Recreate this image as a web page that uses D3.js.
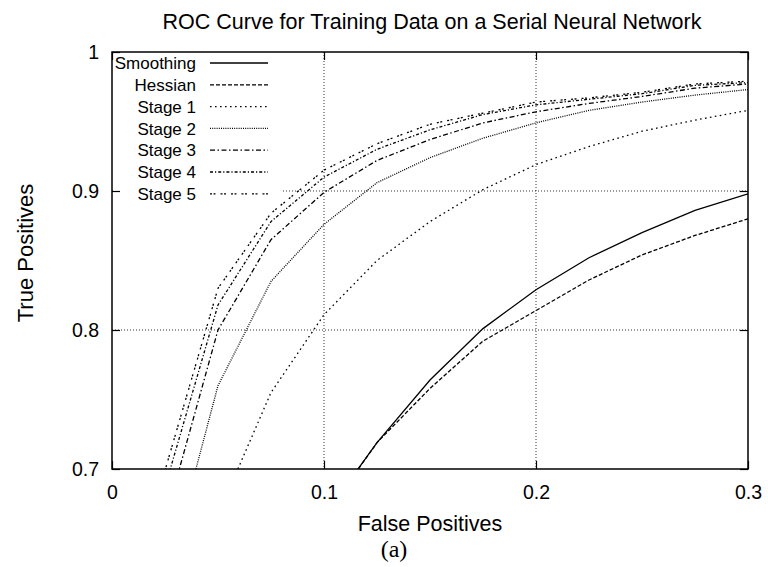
<!DOCTYPE html>
<html>
<head>
  <style>
    body {
      margin: 0;
      background: #fff;
      font-family: "Liberation Sans", Arial, sans-serif;
    }
    .grid line {
      stroke: #000;
      stroke-width: 0.8;
      stroke-dasharray: 1,2;
    }
    .curve {
      fill: none;
      stroke: #000;
      stroke-width: 1.3;
    }
    text {
      fill: #000;
    }
  </style>
</head>
<body>
  <script src="https://d3js.org/d3.v7.min.js"></script>
  <script>
    // false positive rate at which each curve was sampled
    var fpr = [0.025, 0.05, 0.075, 0.1, 0.125, 0.15, 0.175, 0.2, 0.225, 0.25, 0.275, 0.3];

    var smoothing = [null, null, null, 0.666, 0.719, 0.764, 0.801, 0.829, 0.852, 0.870, 0.886, 0.898];
    var hessian   = [null, null, null, 0.665, 0.719, 0.758, 0.792, 0.814, 0.836, 0.854, 0.868, 0.880];
    var stage1    = [null, 0.667, 0.755, 0.811, 0.850, 0.878, 0.901, 0.919, 0.932, 0.943, 0.951, 0.958];
    var stage2    = [0.616, 0.760, 0.835, 0.876, 0.906, 0.924, 0.938, 0.949, 0.958, 0.964, 0.969, 0.973];
    var stage3    = [0.663, 0.800, 0.865, 0.899, 0.922, 0.937, 0.949, 0.957, 0.963, 0.968, 0.974, 0.977];
    var stage4    = [0.687, 0.818, 0.878, 0.910, 0.930, 0.944, 0.955, 0.962, 0.966, 0.970, 0.976, 0.978];
    var stage5    = [0.699, 0.830, 0.884, 0.915, 0.934, 0.948, 0.956, 0.964, 0.967, 0.971, 0.977, 0.979];

    var names = ["Smoothing", "Hessian", "Stage 1", "Stage 2", "Stage 3", "Stage 4", "Stage 5"];
    var dashes = ["none", "4,2", "1.6,3.4", "1,1.2", "5,2.5,1.5,2.5", "3,2,1.2,2", "2,1.5,2,5"];

    var xTicks = [0, 0.1, 0.2, 0.3];
    var yTicks = [0.7, 0.8, 0.9, 1];

    var series = [smoothing, hessian, stage1, stage2, stage3, stage4, stage5];

    var W = 768, H = 567;
    var m = {top: 52, right: 20, bottom: 98, left: 112};
    var width = W - m.left - m.right, height = H - m.top - m.bottom;

    var svg = d3.select("body").append("svg")
        .attr("width", W)
        .attr("height", H);

    var g = svg.append("g")
        .attr("transform", "translate(" + m.left + "," + m.top + ")");

    var x = d3.scaleLinear().domain([0, 0.3]).range([0, width]);
    var y = d3.scaleLinear().domain([0.7, 1]).range([height, 0]);

    // grid (inner lines only)
    var grid = g.append("g").attr("class", "grid");
    grid.selectAll(".gx")
      .data(xTicks.slice(1, -1))
      .enter().append("line")
        .attr("x1", function(d){ return x(d); })
        .attr("x2", function(d){ return x(d); })
        .attr("y1", 0)
        .attr("y2", height);
    grid.selectAll(".gy")
      .data(yTicks.slice(1, -1))
      .enter().append("line")
        .attr("x1", 0)
        .attr("x2", width)
        .attr("y1", function(d){ return y(d); })
        .attr("y2", function(d){ return y(d); });

    // legend background hides the grid
    g.append("rect")
        .attr("x", 1)
        .attr("y", 1)
        .attr("width", 168)
        .attr("height", 150)
        .attr("fill", "#fff");

    g.append("clipPath").attr("id", "clip")
      .append("rect").attr("width", width).attr("height", height);

    var line = d3.line()
        .defined(function(d){ return d[1] != null; })
        .x(function(d){ return x(d[0]); })
        .y(function(d){ return y(d[1]); });

    g.append("g").attr("clip-path", "url(#clip)")
      .selectAll("path")
      .data(series)
      .enter().append("path")
        .attr("class", "curve")
        .attr("stroke-dasharray", function(d, i){ return dashes[i]; })
        .attr("d", function(s){ return line(fpr.map(function(f, i){ return [f, s[i]]; })); });

    // axes, ticks inward on all four sides
    var fmt = function(d){ return d === 0 ? "0" : d === 1 ? "1" : d3.format(".1f")(d); };

    function tidy(sel) {
      sel.select(".domain").remove();
      sel.selectAll(".tick line").attr("stroke-width", 1.2);
      sel.selectAll(".tick text").attr("font-size", 19.5).attr("font-family", "Liberation Sans, Arial, sans-serif");
    }

    g.append("g")
        .attr("transform", "translate(0," + height + ")")
        .call(d3.axisBottom(x).tickValues(xTicks).tickFormat(fmt).tickSize(-8).tickPadding(16))
        .call(tidy);
    g.append("g")
        .call(d3.axisTop(x).tickValues(xTicks).tickFormat("").tickSize(-8))
        .call(tidy);
    g.append("g")
        .call(d3.axisLeft(y).tickValues(yTicks).tickFormat(fmt).tickSize(-8).tickPadding(13))
        .call(tidy);
    g.append("g")
        .attr("transform", "translate(" + width + ",0)")
        .call(d3.axisRight(y).tickValues(yTicks).tickFormat("").tickSize(-8))
        .call(tidy);

    g.append("rect")
        .attr("width", width)
        .attr("height", height)
        .attr("fill", "none")
        .attr("stroke", "#000")
        .attr("stroke-width", 1.5);

    // legend
    var leg = g.selectAll(".leg")
      .data(names)
      .enter().append("g")
        .attr("class", "leg")
        .attr("transform", function(d, i){ return "translate(0," + (11 + i * 21.8) + ")"; });
    leg.append("text")
        .attr("x", 84)
        .attr("dy", "0.36em")
        .attr("text-anchor", "end")
        .attr("font-size", 17)
        .text(function(d){ return d; });
    leg.append("line")
        .attr("class", "curve")
        .attr("x1", 98)
        .attr("x2", 156)
        .attr("stroke-dasharray", function(d, i){ return dashes[i]; });

    // titles
    svg.append("text")
        .attr("x", 432)
        .attr("y", 29)
        .attr("text-anchor", "middle")
        .attr("font-size", 21.5)
        .text("ROC Curve for Training Data on a Serial Neural Network");

    svg.append("text")
        .attr("x", 430)
        .attr("y", 531)
        .attr("text-anchor", "middle")
        .attr("font-size", 21.5)
        .text("False Positives");

    svg.append("text")
        .attr("transform", "translate(33,253) rotate(-90)")
        .attr("text-anchor", "middle")
        .attr("font-size", 22)
        .text("True Positives");

    svg.append("text")
        .attr("x", 394)
        .attr("y", 557)
        .attr("text-anchor", "middle")
        .attr("font-size", 24)
        .attr("font-family", "Liberation Serif, Times New Roman, serif")
        .text("(a)");
  </script>
</body>
</html>
